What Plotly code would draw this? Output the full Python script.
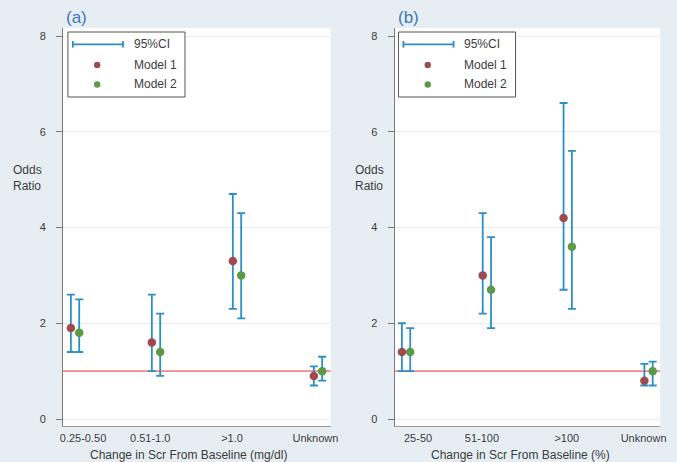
import plotly.graph_objects as go

# ---------------- data ----------------
categories_a = ["0.25-0.50", "0.51-1.0", ">1.0", "Unknown"]
categories_b = ["25-50", "51-100", ">100", "Unknown"]

m1_a = [1.9, 1.6, 3.3, 0.9]
m1_a_lo = [1.4, 1.0, 2.3, 0.7]
m1_a_hi = [2.6, 2.6, 4.7, 1.1]
m2_a = [1.8, 1.4, 3.0, 1.0]
m2_a_lo = [1.4, 0.9, 2.1, 0.8]
m2_a_hi = [2.5, 2.2, 4.3, 1.3]

m1_b = [1.4, 3.0, 4.2, 0.8]
m1_b_lo = [1.0, 2.2, 2.7, 0.7]
m1_b_hi = [2.0, 4.3, 6.6, 1.15]
m2_b = [1.4, 2.7, 3.6, 1.0]
m2_b_lo = [1.0, 1.9, 2.3, 0.7]
m2_b_hi = [1.9, 3.8, 5.6, 1.2]

y_ticks = [0, 2, 4, 6, 8]
reference_or = 1

# ---------------- style ----------------
W, H = 677, 462
BG = "#e7eef3"
CI_COLOR = "#2b8fc6"
M1_COLOR = "#9e4a4f"
M2_COLOR = "#5d9a47"
REF_COLOR = "#ef8a8c"
TEXT = "#3c3c3c"
TITLE_BLUE = "#3a78b8"
FONT = "Liberation Sans, Arial, sans-serif"
M2_OFFSET = 0.103


def px(x):
    return x / W


def py(y):
    return 1 - y / H


fig = go.Figure()


def add_panel(m1, m1_lo, m1_hi, m2, m2_lo, m2_hi, xa, ya):
    pos = list(range(1, len(m1) + 1))
    pos2 = [p + M2_OFFSET for p in pos]
    for xs, v, lo, hi, col in ((pos, m1, m1_lo, m1_hi, M1_COLOR),
                               (pos2, m2, m2_lo, m2_hi, M2_COLOR)):
        fig.add_trace(go.Scatter(
            x=xs, y=v, mode="markers",
            marker=dict(color=col, size=8.5),
            error_y=dict(type="data", symmetric=False,
                         array=[h - c for h, c in zip(hi, v)],
                         arrayminus=[c - l for c, l in zip(v, lo)],
                         color=CI_COLOR, thickness=1.8, width=4),
            xaxis=xa, yaxis=ya, showlegend=False, hoverinfo="skip"))


add_panel(m1_a, m1_a_lo, m1_a_hi, m2_a, m2_a_lo, m2_a_hi, "x", "y")
add_panel(m1_b, m1_b_lo, m1_b_hi, m2_b, m2_b_lo, m2_b_hi, "x2", "y2")

yrange = [-0.146, 8.167]
yaxis_common = dict(range=yrange, tickvals=y_ticks, ticks="outside", ticklen=6,
                    tickcolor="#777", showline=True, linecolor="#7a7a7a", linewidth=1,
                    showgrid=True, gridcolor="#e6eff8", gridwidth=1, zeroline=False,
                    tickfont=dict(size=11, color=TEXT, family=FONT),
                    ticklabelstandoff=8)
xaxis_common = dict(ticks="", showline=True, linecolor="#9a9a9a", linewidth=1,
                    showgrid=False, zeroline=False,
                    tickfont=dict(size=11, color=TEXT, family=FONT),
                    ticklabelstandoff=2)

fig.update_layout(
    width=W, height=H,
    margin=dict(l=0, r=0, t=0, b=0),
    paper_bgcolor=BG, plot_bgcolor="white",
    font=dict(family=FONT, color=TEXT),
    xaxis=dict(domain=[px(61), px(333)], range=[0.903, 4.207],
               tickvals=[1.15, 1.98, 2.99, 4.02], ticktext=categories_a,
               anchor="y", **xaxis_common),
    yaxis=dict(domain=[py(426), py(28)], anchor="x", **yaxis_common),
    xaxis2=dict(domain=[px(398), px(668)], range=[0.909, 4.195],
                tickvals=[1.20, 1.99, 3.04, 3.99], ticktext=categories_b,
                anchor="y2", **xaxis_common),
    yaxis2=dict(domain=[py(426), py(28)], anchor="x2", **yaxis_common),
)

# reference lines at OR = 1
for xr, yr in (("x domain", "y"), ("x2 domain", "y2")):
    fig.add_shape(type="line", xref=xr, yref=yr, x0=0, x1=1,
                  y0=reference_or, y1=reference_or,
                  line=dict(color=REF_COLOR, width=1.8), layer="below")

annotations = []
for dx, label, xtitle, xt_center, ylab_x in ((0, "(a)", "Change in Scr From Baseline (mg/dl)", 188.5, 8),
                                             (337, "(b)", "Change in Scr From Baseline (%)", 526, 356)):
    # panel letter
    annotations.append(dict(x=px(62 + dx), y=py(17.5), xref="paper", yref="paper",
                            text=label, showarrow=False, xanchor="left", yanchor="middle",
                            font=dict(size=17, color=TITLE_BLUE, family=FONT)))
    # y title
    annotations.append(dict(x=px(ylab_x), y=py(178), xref="paper", yref="paper",
                            text="Odds<br>Ratio", showarrow=False, xanchor="left",
                            yanchor="middle", align="left",
                            font=dict(size=12, color=TEXT, family=FONT)))
    # x title
    annotations.append(dict(x=px(xt_center), y=py(455), xref="paper", yref="paper",
                            text=xtitle, showarrow=False, xanchor="center",
                            yanchor="middle",
                            font=dict(size=12, color=TEXT, family=FONT)))

    # legend box
    lx = 66 + (dx - 1 if dx else 0)
    fig.add_shape(type="rect", xref="paper", yref="paper",
                  x0=px(lx), x1=px(lx + 119), y0=py(97), y1=py(32),
                  line=dict(color="#555", width=1), fillcolor="white", layer="above")
    # CI symbol
    fig.add_shape(type="line", xref="paper", yref="paper",
                  x0=px(lx + 5), x1=px(lx + 56), y0=py(44.3), y1=py(44.3),
                  line=dict(color=CI_COLOR, width=1.8), layer="above")
    for cx in (lx + 5, lx + 56):
        fig.add_shape(type="line", xref="paper", yref="paper",
                      x0=px(cx), x1=px(cx), y0=py(41), y1=py(47.6),
                      line=dict(color=CI_COLOR, width=1.8), layer="above")
    # dots
    for cy, col in ((65, M1_COLOR), (84.5, M2_COLOR)):
        fig.add_shape(type="circle", xref="paper", yref="paper",
                      x0=px(lx + 26.5), x1=px(lx + 33), y0=py(cy + 3.2), y1=py(cy - 3.2),
                      line=dict(width=0), fillcolor=col, layer="above")
    for ty, t in ((44.3, "95%CI"), (64.8, "Model 1"), (84.4, "Model 2")):
        annotations.append(dict(x=px(lx + 65), y=py(ty), xref="paper", yref="paper",
                                text=t, showarrow=False, xanchor="left", yanchor="middle",
                                font=dict(size=12, color=TEXT, family=FONT)))

fig.update_layout(annotations=annotations)
fig.write_html("out.html",
               config={"displayModeBar": False},
               post_script="document.body.style.margin='0px';"
                           "document.body.style.overflow='hidden';")
